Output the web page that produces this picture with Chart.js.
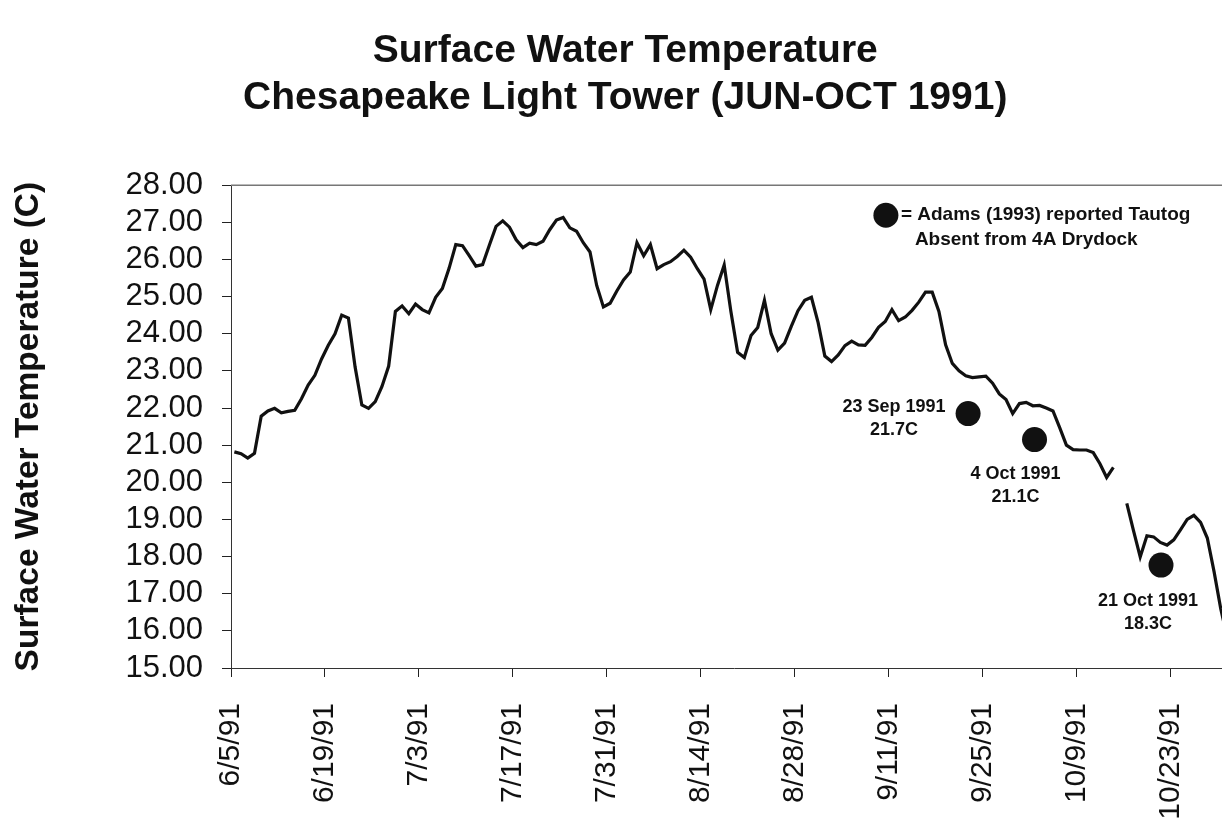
<!DOCTYPE html>
<html>
<head>
<meta charset="utf-8">
<title>Surface Water Temperature</title>
<script src="https://cdn.jsdelivr.net/npm/chart.js@4.4.1/dist/chart.umd.min.js"></script>
<style>
  html, body { margin: 0; padding: 0; background: #fff; width: 1222px; height: 822px; overflow: hidden; }
  #wrap { width: 1250px; height: 822px; position: relative; }
</style>
</head>
<body>
<div id="wrap"><canvas id="TempChart"></canvas></div>
<script>
// days counted from 6/5/91
const tickDays = [0, 14, 28, 42, 56, 70, 84, 98, 112, 126, 140];
const tickLabels = ["6/5/91", "6/19/91", "7/3/91", "7/17/91", "7/31/91", "8/14/91",
  "8/28/91", "9/11/91", "9/25/91", "10/9/91", "10/23/91"];

// daily surface water temperature (C), one value per day from 6/5/91, null = no reading
const surfaceTemp = [
  20.82, 20.77, 20.65, 20.78, 21.78, 21.92, 21.99, 21.87, 21.91, 21.94,
  22.25, 22.62, 22.88, 23.32, 23.69, 24.00, 24.50, 24.42, 23.10, 22.08,
  21.99, 22.17, 22.58, 23.13, 24.60, 24.75, 24.54, 24.80, 24.65, 24.56,
  24.98, 25.22, 25.76, 26.40, 26.37, 26.10, 25.82, 25.86, 26.38, 26.89,
  27.04, 26.87, 26.53, 26.32, 26.44, 26.40, 26.49, 26.80, 27.06, 27.13,
  26.85, 26.76, 26.45, 26.20, 25.30, 24.72, 24.82, 25.15, 25.45, 25.66,
  26.45, 26.10, 26.40, 25.75, 25.86, 25.94, 26.08, 26.25, 26.06, 25.75,
  25.47, 24.65, 25.30, 25.85, 24.60, 23.50, 23.36, 23.95, 24.17, 24.90,
  24.00, 23.56, 23.75, 24.20, 24.62, 24.90, 24.98, 24.30, 23.40, 23.25,
  23.43, 23.68, 23.80, 23.70, 23.69, 23.90, 24.17, 24.33, 24.65, 24.35,
  24.45, 24.63, 24.85, 25.12, 25.12, 24.60, 23.70, 23.20, 23.00, 22.87,
  22.82, 22.84, 22.86, 22.67, 22.38, 22.23, 21.85, 22.12, 22.15, 22.06,
  22.07, 22.00, 21.92, 21.47, 21.00, 20.88, 20.87, 20.87, 20.80, 20.50,
  20.13, 20.40, null, 19.43, 18.70, 17.99, 18.56, 18.53, 18.38, 18.31,
  18.45, 18.72, 19.00, 19.11, 18.92, 18.50, 17.60, 16.60, 15.80
];

// Adams (1993) tautog-absent reports
const sightingDays = [109.85, 119.75, 138.6];
const sightingTemps = [21.85, 21.15, 17.77];
const sightingDates = ["23 Sep 1991", "4 Oct 1991", "21 Oct 1991"];
const sightingReported = ["21.7C", "21.1C", "18.3C"];

const keyDay = 97.6;
const keyTemp = 27.19;

const FONT = '"Liberation Sans", Arial, Helvetica, sans-serif';
Chart.defaults.font.family = FONT;
Chart.defaults.color = '#111';

const noteOffsets = [[-74, -7], [-19, 34], [-13, 36]];

const notesPlugin = {
  id: 'notes',
  afterDatasetsDraw(chart) {
    const ctx = chart.ctx;
    const xs = chart.scales.x, ys = chart.scales.y;
    const area = chart.chartArea;
    ctx.save();
    // top frame line
    ctx.strokeStyle = '#777';
    ctx.lineWidth = 1.5;
    ctx.beginPath();
    ctx.moveTo(area.left, area.top);
    ctx.lineTo(area.right, area.top);
    ctx.stroke();

    ctx.fillStyle = '#111';
    ctx.font = 'bold 18px ' + FONT;
    ctx.textAlign = 'center';
    ctx.textBaseline = 'middle';
    sightingDays.forEach((d, i) => {
      const px = xs.getPixelForValue(d);
      const py = ys.getPixelForValue(sightingTemps[i]);
      const off = noteOffsets[i];
      ctx.fillText(sightingDates[i], px + off[0], py + off[1]);
      ctx.fillText(sightingReported[i], px + off[0], py + off[1] + 23);
    });

    // key
    const kx = xs.getPixelForValue(keyDay);
    const ky = ys.getPixelForValue(keyTemp);
    ctx.beginPath();
    ctx.arc(kx, ky, 12.5, 0, Math.PI * 2);
    ctx.fill();
    ctx.font = 'bold 19px ' + FONT;
    ctx.textAlign = 'left';
    ctx.fillText('= Adams (1993) reported Tautog', kx + 15, ky);
    ctx.fillText('Absent from 4A Drydock', kx + 29, ky + 25);
    ctx.restore();
  }
};

const TempChart = document.getElementById('TempChart');
new Chart(TempChart, {
  type: 'line',
  data: {
    datasets: [
      {
        label: 'Surface Water Temperature',
        data: surfaceTemp.map((t, i) => ({ x: i + 0.5, y: t })),
        borderColor: '#111',
        borderWidth: 3.2,
        pointRadius: 0,
        fill: false,
        spanGaps: false,
        tension: 0
      },
      {
        label: 'Adams (1993) reported Tautog Absent',
        data: sightingDays.map((d, i) => ({ x: d, y: sightingTemps[i] })),
        showLine: false,
        pointRadius: 12.5,
        pointBackgroundColor: '#111',
        pointBorderColor: '#111',
        pointBorderWidth: 0
      }
    ]
  },
  options: {
    responsive: true,
    maintainAspectRatio: false,
    animation: false,
    layout: { padding: { left: 10, right: 9.5, top: 0, bottom: 0 } },
    plugins: {
      legend: { display: false },
      tooltip: { enabled: false },
      title: {
        display: true,
        text: ['Surface Water Temperature', 'Chesapeake Light Tower (JUN-OCT 1991)'],
        color: '#111',
        font: { size: 39, weight: 'bold', lineHeight: 1.22 },
        padding: { top: 27, bottom: 63 }
      }
    },
    scales: {
      x: {
        type: 'linear',
        min: 0,
        max: 150,
        afterBuildTicks: (scale) => { scale.ticks = tickDays.map(v => ({ value: v })); },
        afterFit: (scale) => { scale.height = 154; },
        ticks: {
          autoSkip: false,
          minRotation: 90,
          maxRotation: 90,
          padding: 26,
          font: { size: 30 },
          color: '#111',
          callback: (v) => tickLabels[tickDays.indexOf(v)]
        },
        grid: { drawOnChartArea: false, drawTicks: true, tickLength: 9, color: '#222' },
        border: { display: true, color: '#333', width: 1 }
      },
      y: {
        min: 15,
        max: 28,
        afterFit: (scale) => { scale.width = 221; },
        ticks: {
          autoSkip: false,
          stepSize: 1,
          padding: 19,
          font: { size: 31 },
          color: '#111',
          callback: (v) => v.toFixed(2)
        },
        grid: { drawOnChartArea: false, drawTicks: true, tickLength: 9, color: '#222' },
        border: { display: true, color: '#333', width: 1 },
        title: {
          display: true,
          text: 'Surface Water Temperature (C)',
          color: '#111',
          font: { size: 33.5, weight: 'bold', lineHeight: 1.15 },
          padding: { top: 0, bottom: 0 }
        }
      }
    }
  },
  plugins: [notesPlugin]
});
</script>
</body>
</html>
